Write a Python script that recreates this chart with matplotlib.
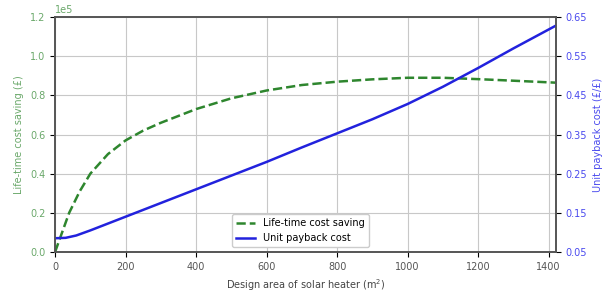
import matplotlib
matplotlib.use("Agg")
import matplotlib.pyplot as plt

# Data
area_saving = [0, 10, 20, 40, 70, 100, 150, 200, 250, 300, 400, 500, 600, 700,
               800, 900, 1000, 1100, 1200, 1300, 1420]
saving = [0, 5000, 10000, 20000, 31000, 40000, 50000, 57000, 62000, 66000, 73000,
          78500, 82500, 85300, 87000, 88200, 89000, 89000, 88300, 87500, 86500]

area_payback = [0, 30, 60, 100, 200, 300, 400, 500, 600, 700, 800, 900, 1000,
                1100, 1200, 1300, 1420]
payback = [0.085, 0.086, 0.092, 0.105, 0.14, 0.175, 0.21, 0.245, 0.28, 0.317,
           0.353, 0.389, 0.428, 0.472, 0.52, 0.57, 0.628]

x_ticks = [0, 200, 400, 600, 800, 1000, 1200, 1400]
left_ticks = [0, 20000, 40000, 60000, 80000, 100000, 120000]
right_ticks = [0.05, 0.15, 0.25, 0.35, 0.45, 0.55, 0.65]

fig = plt.figure(figsize=(6.12, 2.95), dpi=100)
ax = fig.add_axes([0.09, 0.146, 0.818, 0.796])
ax2 = ax.twinx()

l1, = ax.plot(area_saving, saving, color='#2e862e', ls='--', lw=1.8,
              label='Life-time cost saving')
l2, = ax2.plot(area_payback, payback, color='#2222dd', lw=1.8,
               label='Unit payback cost')

ax.set_xlim(0, 1420)
ax.set_ylim(0, 120000)
ax2.set_ylim(0.05, 0.65)
ax.set_xticks(x_ticks)
ax.set_yticks(left_ticks)
ax2.set_yticks(right_ticks)
ax.ticklabel_format(axis='y', style='sci', scilimits=(0, 0))
ax.grid(True, color='#c8c8c8', lw=0.8)

green_txt = '#6aa86a'
blue_txt = '#4a4aee'
ax.tick_params(axis='y', labelcolor=green_txt, labelsize=7)
ax.tick_params(axis='x', labelsize=7, labelcolor='#555555')
ax2.tick_params(axis='y', labelcolor=blue_txt, labelsize=7)
ax.yaxis.get_offset_text().set_color(green_txt)
ax.yaxis.get_offset_text().set_fontsize(7)
ax.set_ylabel('Life-time cost saving (£)', color=green_txt, fontsize=7)
ax2.set_ylabel('Unit payback cost (£/£)', color=blue_txt, fontsize=7)
ax.set_xlabel('Design area of solar heater (m$^2$)', fontsize=7, color='#444444')

for a in (ax, ax2):
    for s in a.spines.values():
        s.set_color('#555555')
        s.set_linewidth(1.2)

ax.legend(handles=[l1, l2], loc='lower center', bbox_to_anchor=(0.49, 0.0),
          fontsize=7, framealpha=1.0)

fig.savefig('out.png', dpi=100)
